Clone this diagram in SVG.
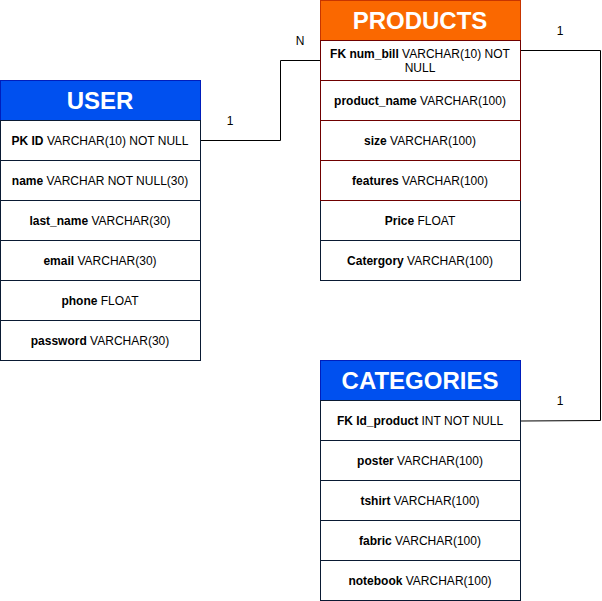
<svg xmlns="http://www.w3.org/2000/svg" width="602" height="601" viewBox="0 0 602 601">
<style>
.hdr{font-family:"Liberation Sans",Arial,sans-serif;font-size:24px;font-weight:bold;fill:#fff;text-anchor:middle}
.row{font-family:"Liberation Sans",Arial,sans-serif;font-size:12px;fill:#000;text-anchor:middle}
.b{font-weight:bold}
.cell{fill:#fff;stroke:#0a1a33;stroke-width:1}
.cellr{fill:#fff;stroke:#6f0000;stroke-width:1}
.blue{fill:#0050ef;stroke:#001dbc;stroke-width:1}
.orange{fill:#fa6800;stroke:#c73500;stroke-width:1}
.conn{fill:none;stroke:#000;stroke-width:1}
.lbl{font-family:"Liberation Sans",Arial,sans-serif;font-size:12px;fill:#000;text-anchor:middle}
</style>
<rect width="602" height="601" fill="#fff"/>
<g id="connectors">
<polyline class="conn" points="200.5,140.5 280.5,140.5 280.5,60.5 320.5,60.5"/>
<polyline class="conn" points="520.5,50.5 600.5,50.5 600.5,420.5 520.5,421"/>
<text class="lbl" x="230" y="125">1</text>
<text class="lbl" x="300" y="45">N</text>
<text class="lbl" x="560" y="35">1</text>
<text class="lbl" x="560" y="405">1</text>
</g>
<g id="user">
<rect class="blue" x="0.5" y="80.5" width="200" height="40"/>
<text class="hdr" x="100" y="109">USER</text>
<rect class="cell" x="0.5" y="120.5" width="200" height="40"/>
<text class="row" x="100" y="145"><tspan class="b">PK ID</tspan> VARCHAR(10) NOT NULL</text>
<rect class="cell" x="0.5" y="160.5" width="200" height="40"/>
<text class="row" x="100" y="185"><tspan class="b">name</tspan> VARCHAR NOT NULL(30)</text>
<rect class="cell" x="0.5" y="200.5" width="200" height="40"/>
<text class="row" x="100" y="225"><tspan class="b">last_name</tspan> VARCHAR(30)</text>
<rect class="cell" x="0.5" y="240.5" width="200" height="40"/>
<text class="row" x="100" y="265"><tspan class="b">email</tspan> VARCHAR(30)</text>
<rect class="cell" x="0.5" y="280.5" width="200" height="40"/>
<text class="row" x="100" y="305"><tspan class="b">phone</tspan> FLOAT</text>
<rect class="cell" x="0.5" y="320.5" width="200" height="40"/>
<text class="row" x="100" y="345"><tspan class="b">password</tspan> VARCHAR(30)</text>
</g>
<g id="products">
<rect class="orange" x="320.5" y="0.5" width="200" height="40"/>
<text class="hdr" x="420" y="29">PRODUCTS</text>
<rect class="cell" x="320.5" y="240.5" width="200" height="40"/>
<text class="row" x="420" y="265"><tspan class="b">Catergory</tspan> VARCHAR(100)</text>
<rect class="cell" x="320.5" y="200.5" width="200" height="40"/>
<text class="row" x="420" y="225"><tspan class="b">Price</tspan> FLOAT</text>
<rect class="cellr" x="320.5" y="40.5" width="200" height="40"/>
<text class="row" x="420" y="58"><tspan class="b">FK num_bill</tspan> VARCHAR(10) NOT</text>
<text class="row" x="420" y="72">NULL</text>
<rect class="cellr" x="320.5" y="80.5" width="200" height="40"/>
<text class="row" x="420" y="105"><tspan class="b">product_name</tspan> VARCHAR(100)</text>
<rect class="cellr" x="320.5" y="120.5" width="200" height="40"/>
<text class="row" x="420" y="145"><tspan class="b">size</tspan> VARCHAR(100)</text>
<rect class="cellr" x="320.5" y="160.5" width="200" height="40"/>
<text class="row" x="420" y="185"><tspan class="b">features</tspan> VARCHAR(100)</text>
</g>
<g id="categories">
<rect class="blue" x="320.5" y="360.5" width="200" height="40"/>
<text class="hdr" x="420" y="389">CATEGORIES</text>
<rect class="cell" x="320.5" y="400.5" width="200" height="40"/>
<text class="row" x="420" y="425"><tspan class="b">FK Id_product</tspan> INT NOT NULL</text>
<rect class="cell" x="320.5" y="440.5" width="200" height="40"/>
<text class="row" x="420" y="465"><tspan class="b">poster</tspan> VARCHAR(100)</text>
<rect class="cell" x="320.5" y="480.5" width="200" height="40"/>
<text class="row" x="420" y="505"><tspan class="b">tshirt</tspan> VARCHAR(100)</text>
<rect class="cell" x="320.5" y="520.5" width="200" height="40"/>
<text class="row" x="420" y="545"><tspan class="b">fabric</tspan> VARCHAR(100)</text>
<rect class="cell" x="320.5" y="560.5" width="200" height="40"/>
<text class="row" x="420" y="585"><tspan class="b">notebook</tspan> VARCHAR(100)</text>
</g>
</svg>
